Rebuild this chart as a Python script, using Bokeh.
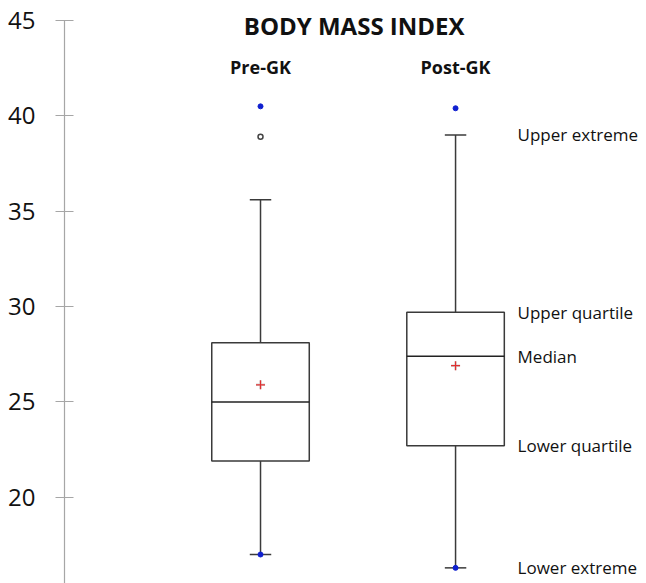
from bokeh.plotting import figure
from bokeh.models import Range1d, FixedTicker, ColumnDataSource
from bokeh.core.properties import value
from bokeh.embed import file_html
from bokeh.resources import INLINE

# ---- data ----
categories = ["Pre-GK", "Post-GK"]
q1 = [21.9, 22.7]
median = [25.0, 27.4]
q3 = [28.1, 29.7]
lower_whisker = [17.0, 16.3]
upper_whisker = [35.6, 39.0]
mean = [25.9, 26.9]
minimum = [17.0, 16.3]
maximum = [40.5, 40.4]
outlier_group = ["Pre-GK"]
outlier_value = [38.9]
y_ticks = [15, 20, 25, 30, 35, 40, 45]
title_text = "BODY MASS INDEX"
annotation_labels = ["Upper extreme", "Upper quartile", "Median", "Lower quartile", "Lower extreme"]

xpos = [i + 1 for i in range(len(categories))]
pos_of = dict(zip(categories, xpos))

FONT = "Open Sans"
p = figure(width=646, height=583, output_backend="svg", toolbar_location=None,
           x_range=Range1d(-0.005, 2.979), y_range=Range1d(15.48, 46.05),
           min_border_left=64, min_border_right=0, min_border_top=0, min_border_bottom=0)
p.outline_line_color = None
p.xaxis.visible = False
p.xgrid.visible = False
p.ygrid.visible = False

ya = p.yaxis[0]
ya.ticker = FixedTicker(ticks=y_ticks)
ya.bounds = (15, 45)
ya.axis_line_color = "#a6a6a6"
ya.axis_line_width = 1.2
ya.major_tick_line_color = "#a6a6a6"
ya.major_tick_line_width = 1.2
ya.major_tick_in = 9
ya.major_tick_out = 9
ya.minor_tick_line_color = None
ya.major_label_text_font = FONT
ya.major_label_text_font_size = "24px"
ya.major_label_text_color = "#111111"
ya.major_label_standoff = 20

half_box = 0.25
half_cap = 0.055
src = ColumnDataSource(dict(
    x=xpos,
    xl=[x - half_box for x in xpos], xr=[x + half_box for x in xpos],
    cl=[x - half_cap for x in xpos], cr=[x + half_cap for x in xpos],
    q1=q1, med=median, q3=q3, lo=lower_whisker, hi=upper_whisker,
    mean=mean, mn=minimum, mx=maximum, cat=categories))

line_col = "#3a3a3a"
# whiskers
p.segment(x0="x", y0="q3", x1="x", y1="hi", source=src, line_color=line_col, line_width=1.5)
p.segment(x0="x", y0="lo", x1="x", y1="q1", source=src, line_color=line_col, line_width=1.5)
# caps
p.segment(x0="cl", y0="hi", x1="cr", y1="hi", source=src, line_color=line_col, line_width=1.5)
p.segment(x0="cl", y0="lo", x1="cr", y1="lo", source=src, line_color=line_col, line_width=1.5)
# boxes
p.quad(left="xl", right="xr", bottom="q1", top="q3", source=src, fill_color="white",
       line_color=line_col, line_width=1.5)
# median
p.segment(x0="xl", y0="med", x1="xr", y1="med", source=src, line_color="#222222", line_width=1.5)
# mean (grey shadow + red cross)
p.scatter(x="x", y="mean", source=src, marker="cross", size=9, line_color="#bbbbbb", line_width=2.5, line_alpha=0.6)
p.scatter(x="x", y="mean", source=src, marker="cross", size=9, line_color="#e03030", line_width=1.2)
# min / max points
p.scatter(x="x", y="mn", source=src, marker="circle", size=5, fill_color="#1020d0", line_color="#1020d0")
p.scatter(x="x", y="mx", source=src, marker="circle", size=5, fill_color="#1020d0", line_color="#1020d0")
# outliers
p.scatter(x=[pos_of[c] for c in outlier_group], y=outlier_value, marker="circle", size=5,
          fill_color="white", line_color="#444444", line_width=1.5)

# category labels
p.text(x="x", y=42.54, text="cat", source=src, text_font=value(FONT), text_font_style="bold",
       text_font_size="18px", text_align="center", text_baseline="middle", text_color="#111111")
# title
p.text(x=[1.48], y=[44.72], text=[title_text], text_font=value(FONT), text_font_style="bold",
       text_font_size="24px", text_align="center", text_baseline="middle", text_color="#111111")
# annotations tied to second group's statistics
last = len(categories) - 1
ann_y = [upper_whisker[last], q3[last], median[last], q1[last], lower_whisker[last]]
p.text(x=[xpos[last] + 0.318] * len(ann_y), y=ann_y, text=annotation_labels, text_font=value(FONT),
       text_font_size="17px", text_align="left", text_baseline="middle", text_color="#111111")

open("out.html", "w").write(file_html(p, INLINE))
